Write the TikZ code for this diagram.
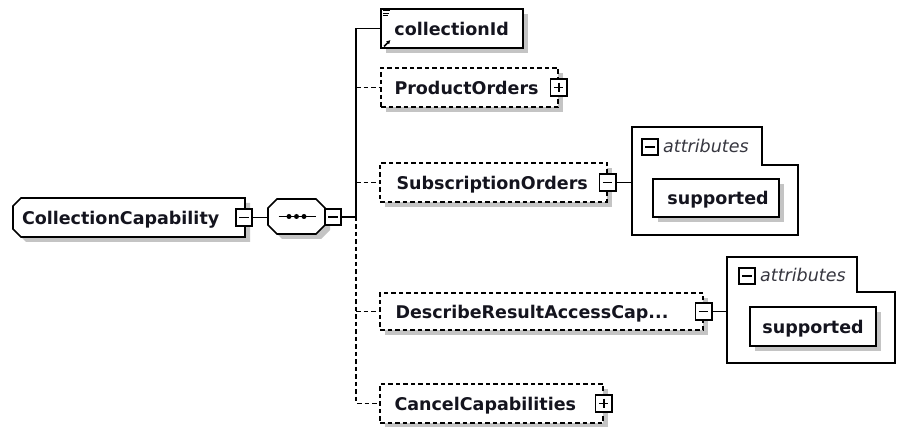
\documentclass[tikz,border=0pt]{standalone}
\usepackage{fontspec}
\newfontfamily\djv{DejaVu Sans}
\usetikzlibrary{shadows,arrows.meta}
\definecolor{shadowc}{RGB}{196,196,196}
\definecolor{txtc}{RGB}{20,20,30}
\begin{document}
\begin{tikzpicture}[x=1pt,y=-1pt,
  shad/.style={drop shadow={shadow xshift=5pt, shadow yshift=-5pt, fill=shadowc, opacity=1}},
  elem/.style={draw, line width=1.6pt, fill=white, rectangle, inner sep=0pt, shad},
  optelem/.style={elem, line width=1.4pt, dash pattern=on 4.5pt off 3pt},
  anchorbox/.style={rectangle, inner sep=0pt},
  lbl/.style={font=\djv\bfseries\fontsize{17.5}{20}\selectfont, text=txtc, inner sep=0pt, anchor=base west},
  attlbl/.style={font=\djv\itshape\fontsize{17.5}{20}\selectfont, text=txtc!85, inner sep=0pt, anchor=base west},
  xpand/.style={draw, line width=1.6pt, fill=white, rectangle, minimum width=16.5pt, minimum height=16.5pt, inner sep=0pt},
  minusbox/.style={xpand, path picture={\draw[line width=1.6pt] ([xshift=3.5pt]path picture bounding box.west) -- ([xshift=-3.5pt]path picture bounding box.east);}},
  plusbox/.style={xpand, path picture={\draw[line width=1.6pt] ([xshift=3.5pt]path picture bounding box.west) -- ([xshift=-3.5pt]path picture bounding box.east);
     \draw[line width=1.6pt] ([yshift=-3.5pt]path picture bounding box.north) -- ([yshift=3.5pt]path picture bounding box.south);}},
  conn/.style={draw, line width=1.6pt},
  dconn/.style={draw, line width=1.5pt, dash pattern=on 4.5pt off 3pt},
  frame/.style={draw, line width=1.5pt}
]
\useasboundingbox (0,0) rectangle (900,427);
\fill[white] (0,0) rectangle (900,427);

% root element (chamfered on the left)
\draw[line width=1.6pt, fill=white, shad] (21,198) -- (245,198) -- (245,237) -- (21,237) -- (13,229) -- (13,206) -- cycle;
\node[anchorbox, minimum width=232pt, minimum height=39pt] (cc) at (129,217.5) {};
\node[lbl] at ([xshift=9pt,yshift=-7pt]cc.west) {CollectionCapability};
\node[minusbox] (ccx) at (244,217.5) {};

% sequence compositor (octagon)
\draw[line width=1.6pt, fill=white, shad] (277,199) -- (316,199) -- (325,208) -- (325,225) -- (316,234) -- (277,234) -- (268,225) -- (268,208) -- cycle;
\node[anchorbox, minimum width=57pt, minimum height=35pt] (seq) at (296.5,216.5) {};
\draw[line width=1.5pt] ([xshift=-18pt]seq.center) -- ([xshift=19pt]seq.center);
\fill ([xshift=-7.5pt]seq.center) circle (2.5pt);
\fill (seq.center) circle (2.5pt);
\fill ([xshift=7.5pt]seq.center) circle (2.5pt);
\node[minusbox] (seqx) at (333,217) {};

\draw[conn] (ccx.east) -- (seq.west |- ccx.east);
\coordinate (busmid) at (356,217);
\draw[conn] (seqx.east) -- (busmid);

% children
\node[elem, minimum width=142pt, minimum height=39pt] (cid) at (452,28.5) {};
\node[lbl] at ([xshift=14pt,yshift=-7pt]cid.west) {collectionId};
\draw[line width=1pt] (383,11) -- (390,11) (383,13.5) -- (389,13.5) (383,16) -- (388,16);
\draw[line width=1.6pt, -{Latex[length=4pt,width=4.5pt]}] (384,46.5) -- (390.5,40);

\node[optelem, minimum width=177pt, minimum height=39pt] (po) at (469.5,87.5) {};
\node[lbl] at ([xshift=14pt,yshift=-7pt]po.west) {ProductOrders};
\node[plusbox] (pox) at (po.east) {};

\node[optelem, minimum width=227pt, minimum height=39pt] (so) at (493.5,182.5) {};
\node[lbl] at ([xshift=17pt,yshift=-7pt]so.west) {SubscriptionOrders};
\node[minusbox] (sox) at (so.east) {};

\node[optelem, minimum width=323pt, minimum height=37pt] (dr) at (541.5,311.5) {};
\node[lbl] at ([xshift=16pt,yshift=-7pt]dr.west) {DescribeResultAccessCap...};
\node[minusbox] (drx) at (dr.east) {};

\node[optelem, minimum width=223pt, minimum height=39pt] (ca) at (491.5,403.5) {};
\node[lbl] at ([xshift=15pt,yshift=-7pt]ca.west) {CancelCapabilities};
\node[plusbox] (cax) at (ca.east) {};

% bus
\draw[conn] (cid.west) -| (busmid);
\draw[dconn] (busmid) |- (ca.west);
\draw[dconn] (po.west -| busmid) -- (po.west);
\draw[dconn] (so.west -| busmid) -- (so.west);
\draw[dconn] (dr.west -| busmid) -- (dr.west);

% attributes 1
\draw[frame] (632,127) -- (762,127) -- (762,165) -- (798,165) -- (798,235) -- (632,235) -- cycle;
\coordinate (att1) at (632,182.5);
\draw[conn] (sox.east) -- (att1);
\node[minusbox] (a1x) at (650,147) {};
\node[attlbl] at (663,153) {attributes};
\node[elem, minimum width=126pt, minimum height=38pt] (sup1) at (716,198) {};
\node[lbl] at ([xshift=15pt,yshift=-7pt]sup1.west) {supported};

% attributes 2
\draw[frame] (727,257) -- (857,257) -- (857,292) -- (895,292) -- (895,363) -- (727,363) -- cycle;
\coordinate (att2) at (727,311.5);
\draw[conn] (drx.east) -- (att2);
\node[minusbox] (a2x) at (747,276) {};
\node[attlbl] at (760,282) {attributes};
\node[elem, minimum width=126pt, minimum height=39pt] (sup2) at (813,326.5) {};
\node[lbl] at ([xshift=13pt,yshift=-7pt]sup2.west) {supported};
\end{tikzpicture}
\end{document}
